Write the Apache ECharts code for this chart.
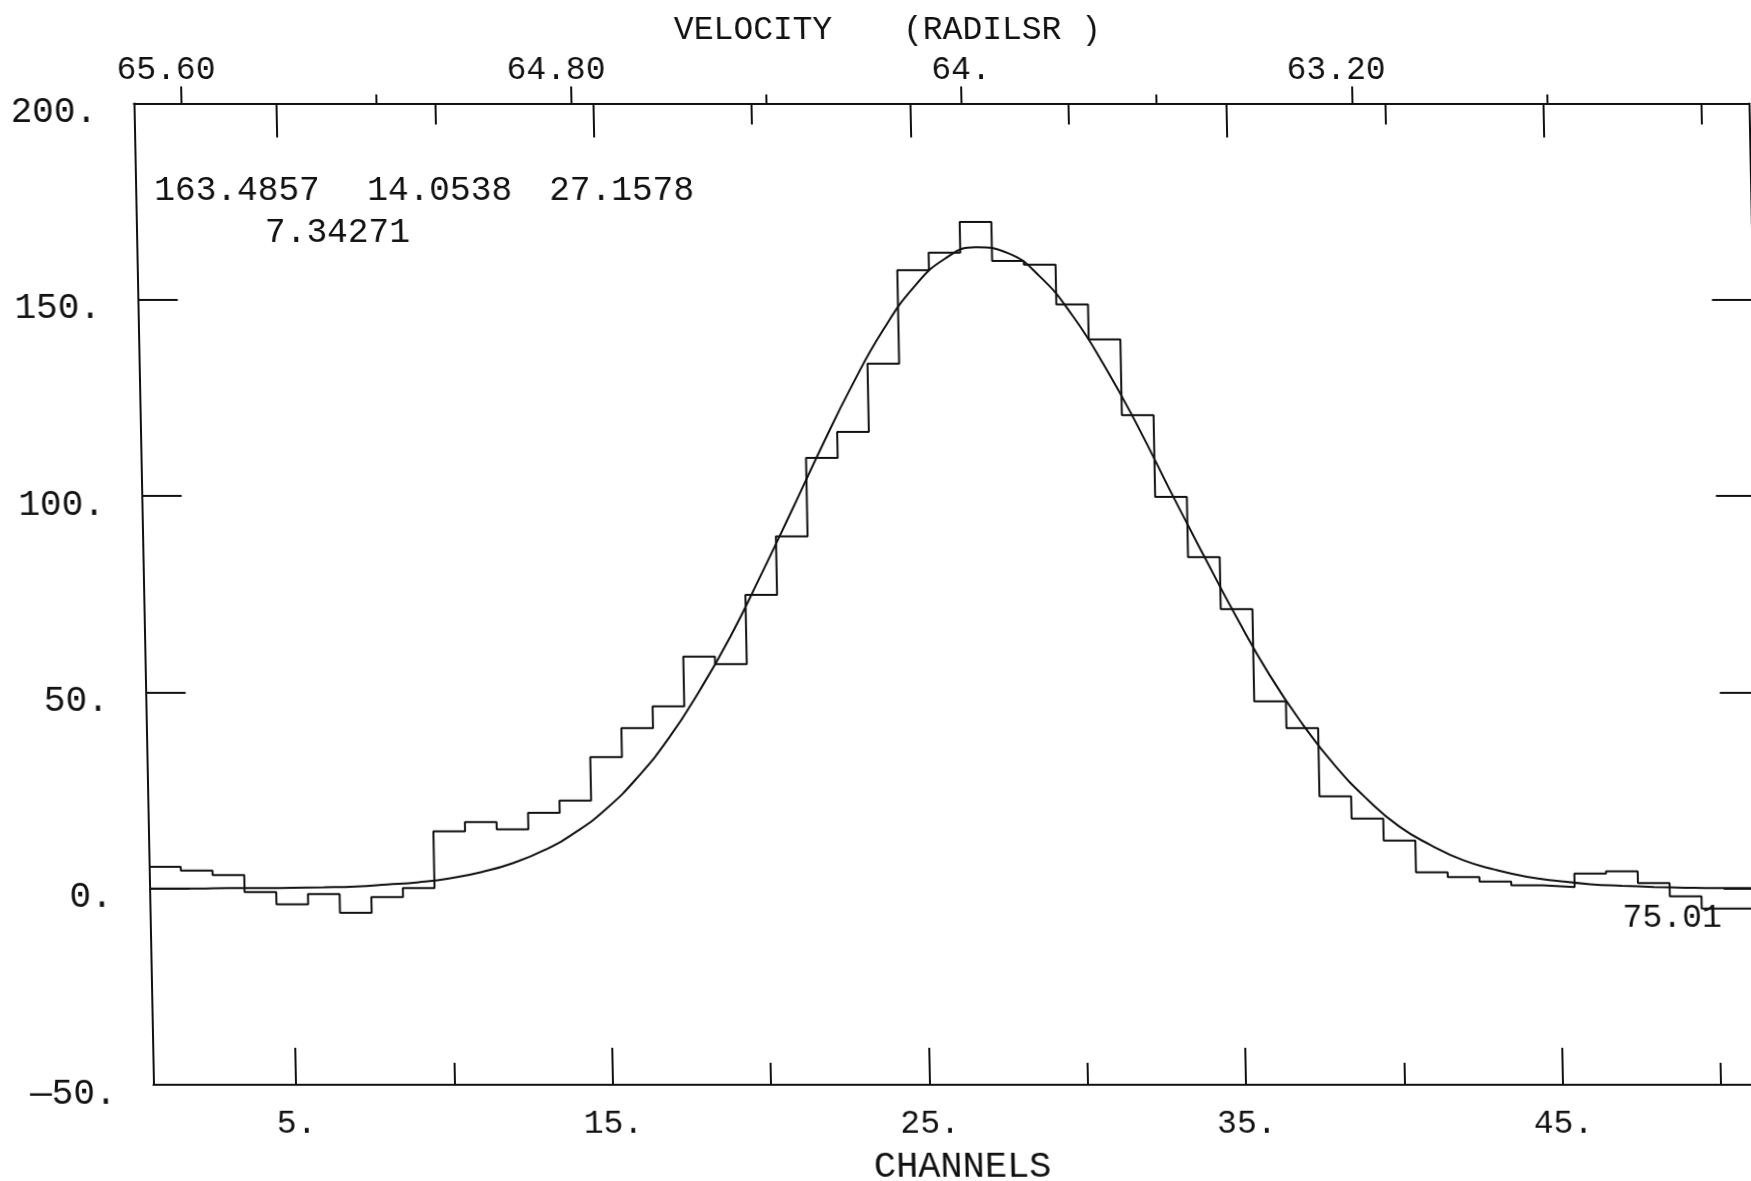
<!DOCTYPE html>
<html>
<head>
<meta charset="utf-8">
<script src="https://cdn.jsdelivr.net/npm/echarts@6/dist/echarts.min.js"></script>
<style>
  html, body { margin: 0; padding: 0; background: #fff; overflow: hidden; width: 1751px; height: 1181px; }
  #chart { width: 1800px; height: 1181px; transform: skewX(1.139deg); transform-origin: 0 1085px; }
</style>
</head>
<body>
<div id="chart"></div>
<script>
// ---- data ----
const channels = [1,2,3,4,5,6,7,8,9,10,11,12,13,14,15,16,17,18,19,20,21,22,23,24,25,
  26,27,28,29,30,31,32,33,34,35,36,37,38,39,40,41,42,43,44,45,46,47,48,49,50,51];
const counts = [5.5,4.6,3.4,-0.9,-4.0,-1.4,-6.2,-2.2,0.1,14.6,16.9,15.1,19.3,22.4,33.5,
  40.9,46.4,59.1,57.2,74.8,89.7,109.7,116.3,133.7,157.5,162.0,169.8,159.9,158.9,148.8,
  139.9,120.6,99.8,84.4,71.2,47.7,40.9,23.5,17.8,12.2,4.1,2.9,1.8,0.8,0.4,3.8,4.4,1.4,-2.0,-5.1,-5.1];
const fitChannels = [0.5,1,2,3,4,5,6,7,8,9,10,11,12,13,14,15,16,17,18,19,20,21,22,23,24,25,
  26,27,28,29,30,31,32,33,34,35,36,37,38,39,40,41,42,43,44,45,46,47,48,49,50,51,51.5];
const fitValues = [0.0,0.0,0.0,0.1,0.1,0.2,0.3,0.5,1.0,1.6,2.6,4.2,6.5,9.8,14.4,20.5,28.5,38.4,
  50.5,64.2,79.8,96.0,112.5,128.2,142.1,153.1,160.4,163.4,161.9,155.9,146.0,132.9,117.7,101.0,
  84.8,69.0,54.4,42.0,31.4,22.8,15.8,11.0,7.2,4.8,3.0,1.9,1.1,0.7,0.4,0.2,0.1,0.1,0.0];
const channelRange = [0.5, 51.5];
const channelMajorTicks = [5,15,25,35,45];
const channelMinorTicks = [10,20,30,40,50];
const velocityRange = [65.698, 62.385];           // at left / right border
const velocityMajorTicks = [65.6, 64.8, 64.0, 63.2];
const velocityMajorLabels = ['65.60', '64.80', '64.', '63.20'];
const velocityMinorTicks = [65.2, 64.4, 63.6, 62.8];
const yRange = [-50, 200];
const yInterval = 50;
const fitParams = ['163.4857', '14.0538', '27.1578', '7.34271'];
const cornerNote = '75.01';
const xTitle = 'CHANNELS';
const topTitle = ['VELOCITY', '(RADILSR )'];

// ---- chart ----
const FONT = '"Liberation Mono", "DejaVu Sans Mono", monospace';
const FS = 33;
const black = '#111';
const lw = 2;

const histData = channels.map((c, i) => [c - 0.5, counts[i]]);
histData.push([channels[channels.length - 1] + 0.5, counts[counts.length - 1]]);
const fitData = fitChannels.map((c, i) => [c, fitValues[i]]);

function chanAxis(pos, ticks, len, showLine, showLabel) {
  return {
    type: 'value', position: pos, min: channelRange[0], max: channelRange[1],
    axisLine: { show: showLine, onZero: false, lineStyle: { color: black, width: lw } },
    axisTick: { show: true, inside: true, length: len, customValues: ticks, lineStyle: { color: black, width: lw } },
    axisLabel: showLabel ? { show: true, customValues: ticks, formatter: v => v + '.', margin: 23,
      color: black, fontFamily: FONT, fontSize: FS } : { show: false },
    splitLine: { show: false }
  };
}
function velAxis(ticks, len, showLabel) {
  return {
    type: 'value', position: 'top', inverse: true,
    min: velocityRange[1], max: velocityRange[0],
    axisLine: { show: false, onZero: false },
    axisTick: { show: true, inside: false, length: len, customValues: ticks, lineStyle: { color: black, width: lw } },
    axisLabel: showLabel ? {
      show: true, customValues: ticks, margin: 17, color: black, fontFamily: FONT, fontSize: FS,
      formatter: v => {
        const i = velocityMajorTicks.findIndex(t => Math.abs(t - v) < 1e-6);
        const s = i >= 0 ? velocityMajorLabels[i] : '';
        return s.length > 3 ? '{a|' + s + '}' : '{b|' + s + '}';
      },
      rich: {
        a: { fontFamily: FONT, fontSize: FS, color: black, padding: [0, 30, 0, 0] },
        b: { fontFamily: FONT, fontSize: FS, color: black }
      }
    } : { show: false },
    splitLine: { show: false }
  };
}

const xA0 = chanAxis('bottom', channelMajorTicks, 37, true, true);
xA0.name = xTitle;
xA0.nameLocation = 'middle';
xA0.nameGap = 64;
xA0.nameTextStyle = { fontFamily: FONT, fontSize: 37, color: black };

const yFmt = v => '{y|' + (v < 0 ? '\u2014' + Math.abs(v) : String(v)) + '.}';

function txt(x, y, s, fs) {
  return { type: 'text', x: x, y: y, style: { text: s, fontFamily: FONT, fontSize: fs || FS, fill: black, verticalAlign: 'middle', align: 'left' } };
}

const option = {
  animation: false,
  backgroundColor: '#fff',
  grid: { left: 153.4, right: 31.4, top: 103.5, bottom: 96, containLabel: false, outerBoundsMode: 'none' },
  xAxis: [
    xA0,
    chanAxis('bottom', channelMinorTicks, 22, false, false),
    chanAxis('top', channelMajorTicks, 34, true, false),
    chanAxis('top', channelMinorTicks, 21, false, false),
    velAxis(velocityMajorTicks, 17, true),
    velAxis(velocityMinorTicks, 9, false)
  ],
  yAxis: [
    { type: 'value', position: 'left', min: yRange[0], max: yRange[1], interval: yInterval,
      axisLine: { show: true, onZero: false, lineStyle: { color: black, width: lw } },
      axisTick: { show: true, inside: true, length: 40, lineStyle: { color: black, width: lw } },
      axisLabel: { formatter: yFmt, margin: 37, color: black, fontFamily: FONT, fontSize: 36,
        rich: { y: { fontFamily: FONT, fontSize: 36, color: black, padding: [18, 0, 0, 0] } } },
      splitLine: { show: false } },
    { type: 'value', position: 'right', min: yRange[0], max: yRange[1], interval: yInterval,
      axisLine: { show: true, onZero: false, lineStyle: { color: black, width: lw } },
      axisTick: { show: true, inside: true, length: 41, lineStyle: { color: black, width: lw } },
      axisLabel: { show: false }, splitLine: { show: false } }
  ],
  series: [
    { type: 'line', name: 'spectrum', step: 'end', data: histData, xAxisIndex: 0, yAxisIndex: 0,
      showSymbol: false, symbol: 'none', lineStyle: { color: black, width: lw } },
    { type: 'line', name: 'fit', smooth: 0.5, data: fitData, xAxisIndex: 0, yAxisIndex: 0,
      showSymbol: false, symbol: 'none', lineStyle: { color: black, width: lw } }
  ],
  graphic: [
    txt(172, 191, fitParams[0], 34.5),
    txt(385, 191, fitParams[1], 34.5),
    txt(567, 191, fitParams[2], 34.5),
    txt(282, 233, fitParams[3], 34.5),
    txt(695, 30, topTitle[0]),
    txt(924, 30, topTitle[1]),
    txt(1626, 918, cornerNote)
  ]
};

const chart = echarts.init(document.getElementById('chart'), null, { renderer: 'canvas' });
chart.setOption(option);
</script>
</body>
</html>
